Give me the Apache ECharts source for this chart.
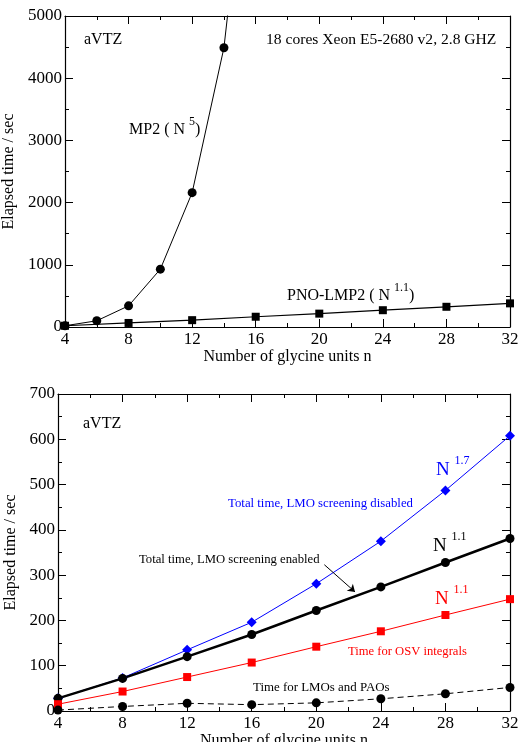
<!DOCTYPE html>
<html>
<head>
<meta charset="utf-8">
<script src="https://cdn.jsdelivr.net/npm/echarts@6/dist/echarts.min.js"></script>
<style>
  html, body { margin: 0; padding: 0; background: #fff; }
  #chart { width: 518px; height: 742px; }
</style>
</head>
<body>
<div id="chart"></div>
<script>
// top panel: canonical MP2 vs PNO-LMP2
const mp2N = [4, 6, 8, 10, 12, 14, 16]
const mp2Time = [20, 100, 340, 930, 2160, 4490, 9000]
const pnoN = [4, 8, 12, 16, 20, 24, 28, 32]
const pnoTime = [20, 65, 110, 165, 215, 270, 325, 380]

// bottom panel: timings vs glycine units
const unitsN = [4, 8, 12, 16, 20, 24, 28, 32]
const totalDisabled = [28, 73, 135, 196, 281, 375, 487, 608]
const totalEnabled = [28, 72, 120, 169, 222, 274, 328, 381]
const osvTime = [15, 43, 75, 107, 142, 176, 212, 247]
const lmoPaoTime = [2, 10, 17, 14, 18, 27, 38, 52]

const FONT = 'Liberation Serif'
const chart = echarts.init(document.getElementById('chart'))

const pairs = (xs, ys) => xs.map((x, i) => [x, ys[i]])

function frameAxis(gridIndex, pos, opts) {
  return Object.assign({
    gridIndex,
    type: 'value',
    position: pos,
    axisLine: { show: true, onZero: false, lineStyle: { color: '#000', width: 1.2 } },
    axisTick: { show: true, inside: true, length: 8, lineStyle: { color: '#000' } },
    minorTick: { show: true, splitNumber: 2, length: 4, lineStyle: { color: '#000' } },
    splitLine: { show: false },
    axisLabel: { show: false },
  }, opts)
}

const labelStyle = { color: '#000', fontFamily: FONT, fontSize: 17, formatter: (v) => String(v) }
const nameStyle = { color: '#000', fontFamily: FONT, fontSize: 16 }

function xAxes(gridIndex, nameGap) {
  const common = { min: 4, max: 32, interval: 4 }
  return [
    frameAxis(gridIndex, 'bottom', Object.assign({}, common, {
      axisLabel: { show: true, margin: 4, ...labelStyle },
      name: 'Number of glycine units n',
      nameLocation: 'middle',
      nameGap,
      nameTextStyle: nameStyle,
    })),
    frameAxis(gridIndex, 'top', common),
  ]
}

function yAxes(gridIndex, max, interval, nameGap) {
  const common = { min: 0, max, interval }
  return [
    frameAxis(gridIndex, 'left', Object.assign({}, common, {
      axisLabel: { show: true, margin: 3, ...labelStyle },
      name: 'Elapsed time / sec',
      nameLocation: 'middle',
      nameGap,
      nameTextStyle: nameStyle,
    })),
    frameAxis(gridIndex, 'right', common),
  ]
}

function txt(left, top, text, color, size) {
  return {
    type: 'text', left, top,
    style: { text, fill: color, font: `${size}px "${FONT}"` },
  }
}

// base text with a raised superscript, e.g. "MP2 ( N" + "5" + ")"
function supTxt(left, top, base, sup, tail, color, size) {
  return {
    type: 'text', left, top,
    style: {
      text: `{n|${base} }{s|${sup}}` + (tail ? `{n|${tail}}` : ''),
      fill: color,
      rich: {
        n: { fontFamily: FONT, fontSize: size, lineHeight: size + 6, fill: color, verticalAlign: 'bottom' },
        s: { fontFamily: FONT, fontSize: 12, lineHeight: 12, fill: color, verticalAlign: 'top' },
      },
    },
  }
}

const option = {
  backgroundColor: '#fff',
  animation: false,
  grid: [
    { left: 65, right: 8, top: 16, bottom: 415, outerBoundsMode: 'none' },
    { left: 58, right: 8, top: 394, bottom: 31, outerBoundsMode: 'none' },
  ],
  xAxis: [...xAxes(0, 21), ...xAxes(1, 22)],
  yAxis: [...yAxes(0, 5000, 1000, 46), ...yAxes(1, 700, 100, 38)],
  series: [
    {
      name: 'MP2', type: 'line', xAxisIndex: 0, yAxisIndex: 0,
      data: pairs(mp2N, mp2Time),
      symbol: 'circle', symbolSize: 9,
      lineStyle: { color: '#000', width: 1 },
      itemStyle: { color: '#000' },
    },
    {
      name: 'PNO-LMP2', type: 'line', xAxisIndex: 0, yAxisIndex: 0,
      data: pairs(pnoN, pnoTime),
      symbol: 'rect', symbolSize: 8,
      lineStyle: { color: '#000', width: 1.2 },
      itemStyle: { color: '#000' },
    },
    {
      name: 'disabled', type: 'line', xAxisIndex: 2, yAxisIndex: 2,
      data: pairs(unitsN, totalDisabled),
      symbol: 'diamond', symbolSize: 10,
      lineStyle: { color: '#0000ff', width: 1 },
      itemStyle: { color: '#0000ff' },
    },
    {
      name: 'enabled', type: 'line', xAxisIndex: 2, yAxisIndex: 2,
      data: pairs(unitsN, totalEnabled),
      symbol: 'circle', symbolSize: 9,
      lineStyle: { color: '#000', width: 2.5 },
      itemStyle: { color: '#000' },
      markLine: {
        silent: true,
        symbol: ['none', 'arrow'], symbolSize: 7,
        label: { show: false },
        lineStyle: { color: '#000', width: 1, type: 'solid' },
        data: [[{ coord: [20.5, 323] }, { coord: [22.4, 263] }]],
      },
    },
    {
      name: 'osv', type: 'line', xAxisIndex: 2, yAxisIndex: 2,
      data: pairs(unitsN, osvTime),
      symbol: 'rect', symbolSize: 8,
      lineStyle: { color: '#ff0000', width: 1 },
      itemStyle: { color: '#ff0000' },
    },
    {
      name: 'lmo', type: 'line', xAxisIndex: 2, yAxisIndex: 2,
      data: pairs(unitsN, lmoPaoTime),
      symbol: 'circle', symbolSize: 9,
      lineStyle: { color: '#000', width: 1, type: [6, 4] },
      itemStyle: { color: '#000' },
    },
  ],
  graphic: [
    // top panel notes
    txt(84, 32, 'aVTZ', '#000', 16),
    txt(266, 32, '18 cores Xeon E5-2680 v2, 2.8 GHZ', '#000', 15.6),
    supTxt(129, 116, 'MP2 ( N', '5', ')', '#000', 16),
    supTxt(287, 282, 'PNO-LMP2 ( N', '1.1', ')', '#000', 16),
    // bottom panel notes
    txt(83, 416, 'aVTZ', '#000', 16),
    supTxt(436, 455, 'N', '1.7', null, '#0000ff', 19),
    txt(228, 497, 'Total time, LMO screening disabled', '#0000ff', 12.8),
    supTxt(433, 531, 'N', '1.1', null, '#000', 19),
    txt(139, 553, 'Total time, LMO screening enabled', '#000', 12.7),
    supTxt(435, 584, 'N', '1.1', null, '#ff0000', 19),
    txt(348, 645, 'Time for OSV integrals', '#ff0000', 12.6),
    txt(253, 681, 'Time for LMOs and PAOs', '#000', 12.9),
  ],
}

chart.setOption(option)
</script>
</body>
</html>
